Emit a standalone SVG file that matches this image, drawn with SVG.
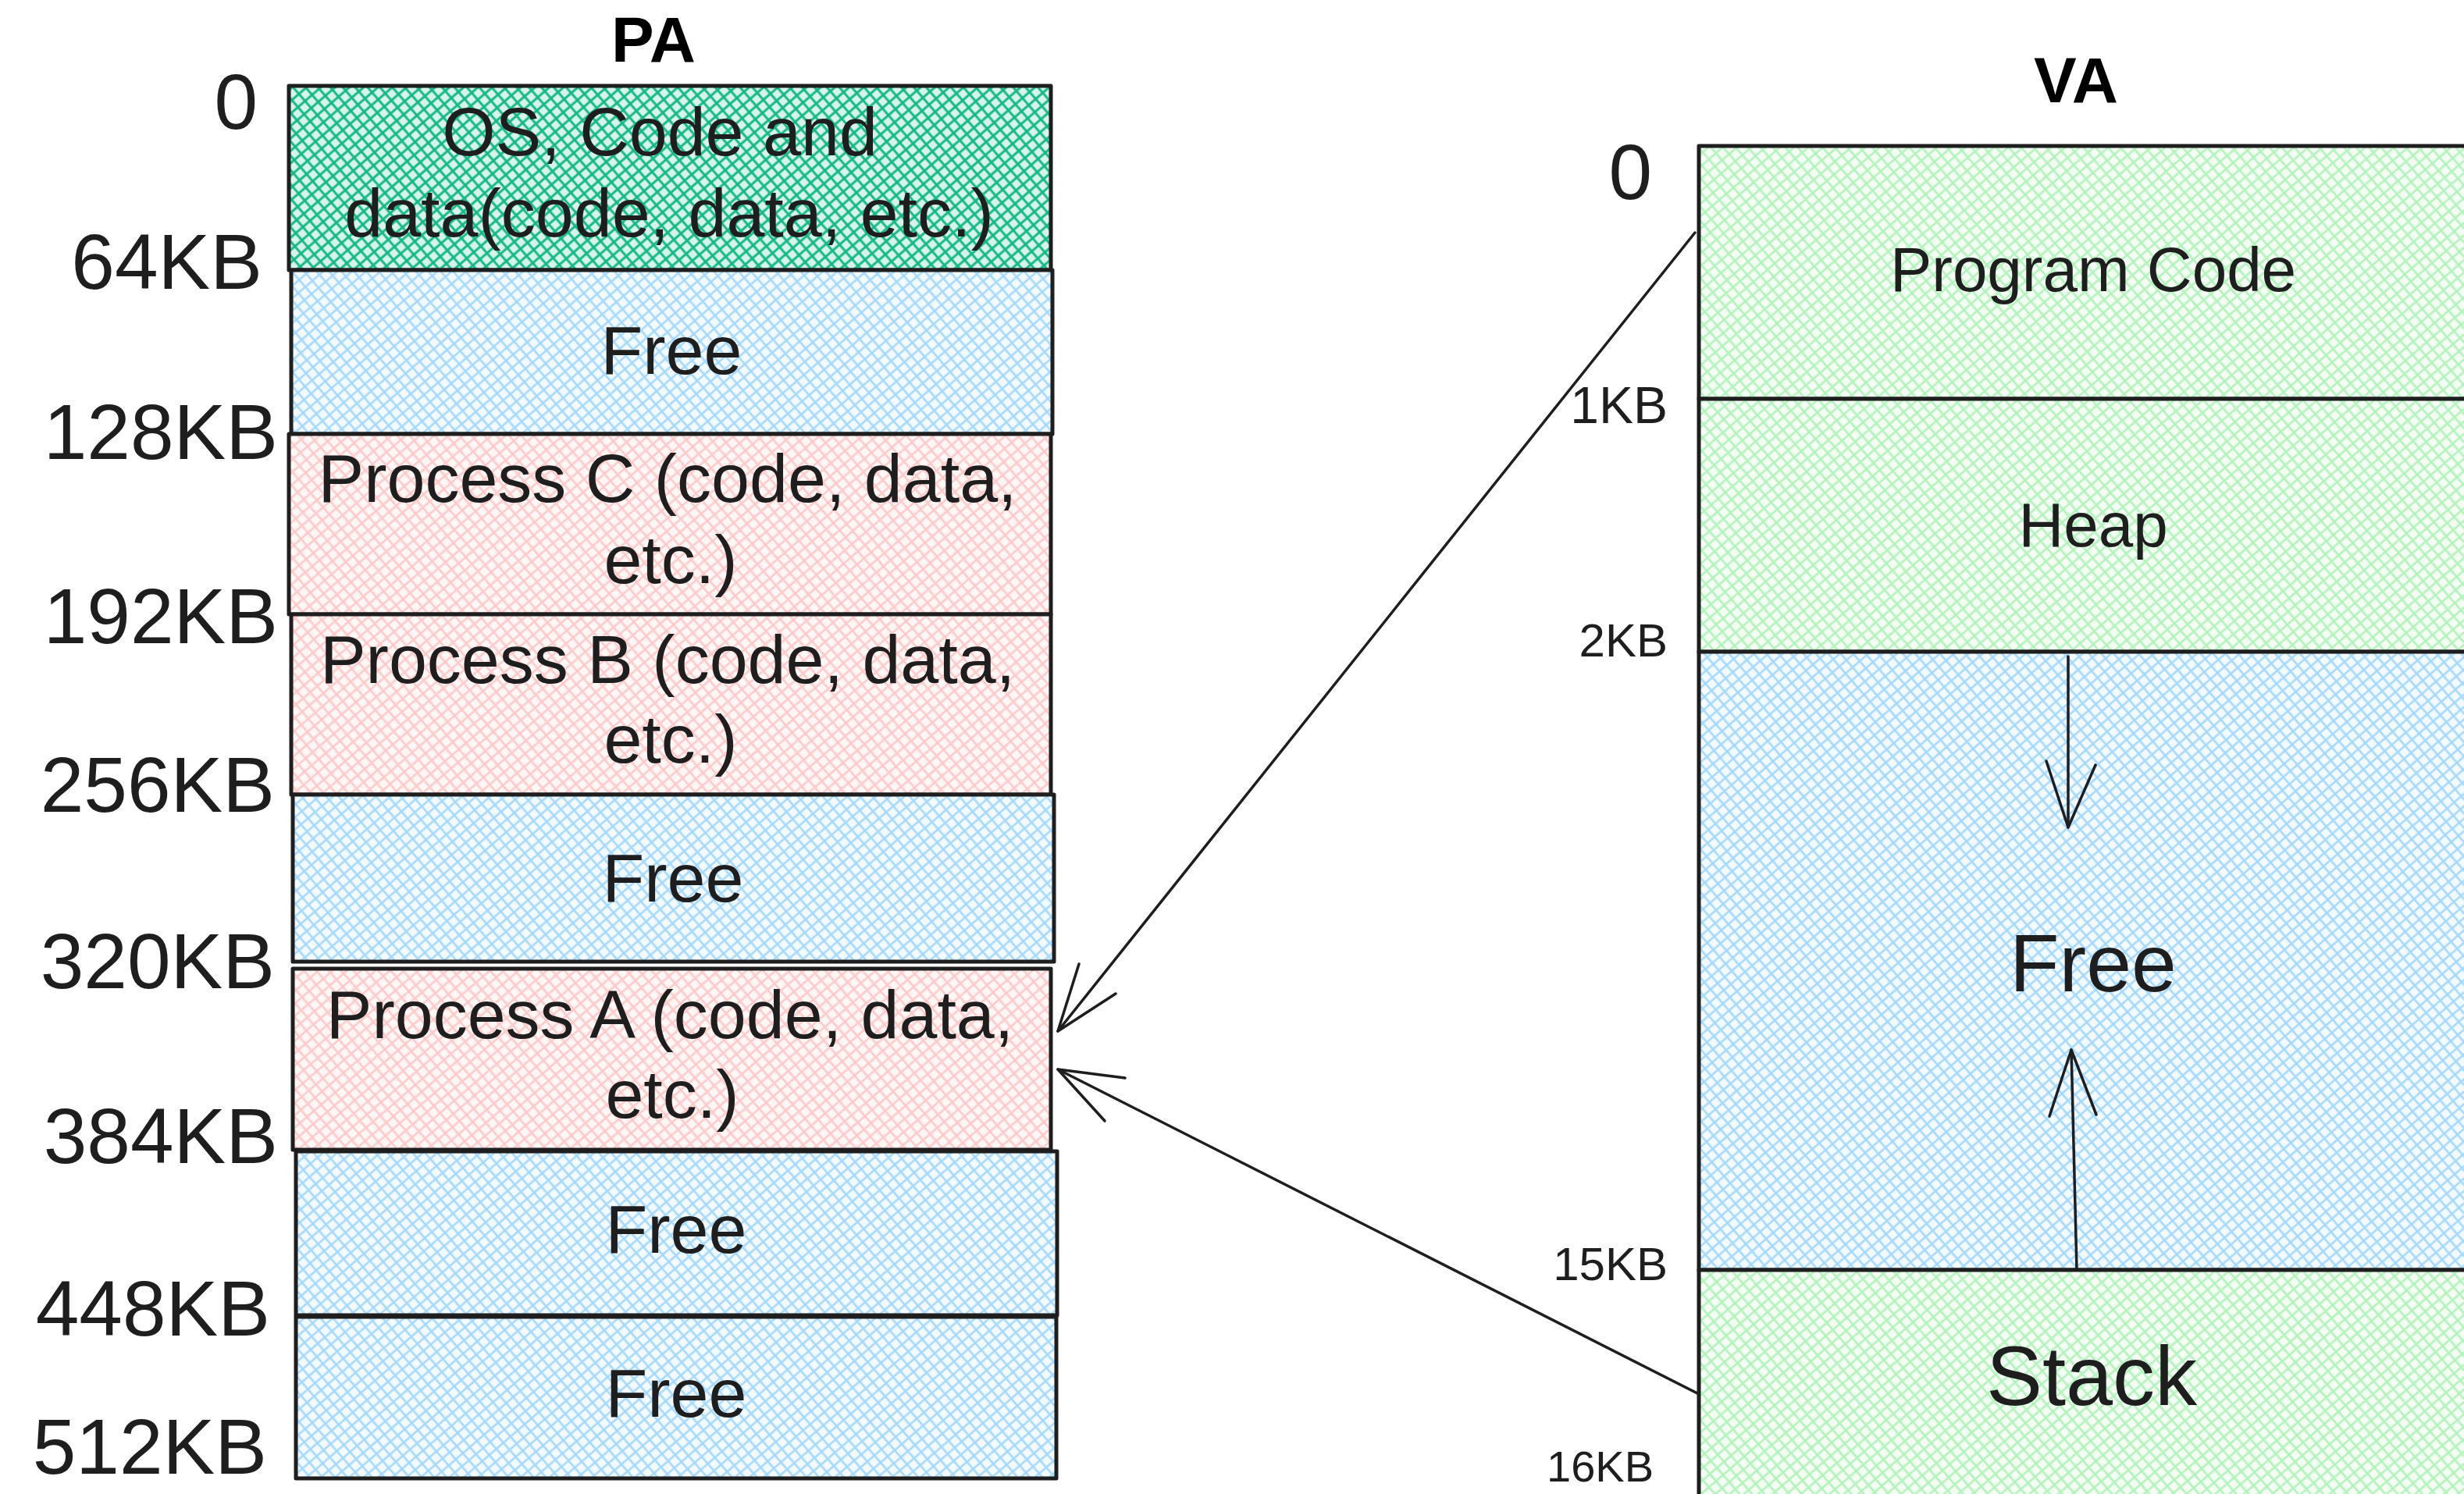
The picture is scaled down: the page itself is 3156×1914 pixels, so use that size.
<svg xmlns="http://www.w3.org/2000/svg" width="3156" height="1914" viewBox="0 0 3156 1914">
<style>
.box{stroke:#1e1e1e;stroke-width:5;stroke-linejoin:round}
.t{font-family:"Liberation Sans",Arial,sans-serif;fill:#1e1e1e}
.bt{font-size:88px;text-anchor:middle}
.lbl{font-size:100px;text-anchor:end}
.vl{text-anchor:end}
.title{font-family:"Liberation Sans",Arial,sans-serif;font-weight:bold;font-size:82px;text-anchor:middle;fill:#000}
.conn{fill:none;stroke:#1e1e1e;stroke-width:3.5;stroke-linecap:round;stroke-linejoin:round}
</style>
<defs>
<pattern id="hTeal" patternUnits="userSpaceOnUse" width="12" height="12" patternTransform="rotate(-41)">
<rect width="12" height="12" fill="#d8f3ea"/>
<path d="M0 6H12M6 0V12" stroke="#12b886" stroke-width="3"/>
</pattern>
<pattern id="hBlue" patternUnits="userSpaceOnUse" width="12" height="12" patternTransform="rotate(-41)">
<rect width="12" height="12" fill="#f2f9ff"/>
<path d="M0 6H12M6 0V12" stroke="#a5d8ff" stroke-width="2.6"/>
</pattern>
<pattern id="hPink" patternUnits="userSpaceOnUse" width="12" height="12" patternTransform="rotate(-41)">
<rect width="12" height="12" fill="#fff6f6"/>
<path d="M0 6H12M6 0V12" stroke="#ffc9c9" stroke-width="2.6"/>
</pattern>
<pattern id="hGreen" patternUnits="userSpaceOnUse" width="12" height="12" patternTransform="rotate(-41)">
<rect width="12" height="12" fill="#f3fdf4"/>
<path d="M0 6H12M6 0V12" stroke="#b2f2bb" stroke-width="2.6"/>
</pattern>
</defs>
<rect width="3156" height="1914" fill="#ffffff"/>

<text class="title" x="837" y="79">PA</text>
<text class="title" x="2659" y="131">VA</text>

<g id="pa-os">
<rect class="box" x="370" y="110" width="976" height="236" fill="url(#hTeal)"/>
<text class="t bt" x="845" y="199">OS, Code and</text>
<text class="t bt" x="857" y="303">data(code, data, etc.)</text>
</g>
<g id="pa-free1">
<rect class="box" x="373" y="346" width="975" height="210" fill="url(#hBlue)"/>
<text class="t bt" x="860" y="479">Free</text>
</g>
<g id="pa-procC">
<rect class="box" x="370" y="556" width="976" height="231" fill="url(#hPink)"/>
<text class="t bt" x="855" y="643">Process C (code, data,</text>
<text class="t bt" x="859" y="747">etc.)</text>
</g>
<g id="pa-procB">
<rect class="box" x="373" y="787" width="973" height="231" fill="url(#hPink)"/>
<text class="t bt" x="855" y="875">Process B (code, data,</text>
<text class="t bt" x="859" y="977">etc.)</text>
</g>
<g id="pa-free2">
<rect class="box" x="375" y="1018" width="975" height="214" fill="url(#hBlue)"/>
<text class="t bt" x="862" y="1155">Free</text>
</g>
<g id="pa-procA">
<rect class="box" x="375" y="1241" width="971" height="232" fill="url(#hPink)"/>
<text class="t bt" x="858" y="1330">Process A (code, data,</text>
<text class="t bt" x="861" y="1432">etc.)</text>
</g>
<g id="pa-free3">
<rect class="box" x="379" y="1475" width="975" height="210" fill="url(#hBlue)"/>
<text class="t bt" x="866" y="1605">Free</text>
</g>
<g id="pa-free4">
<rect class="box" x="379" y="1687" width="974" height="207" fill="url(#hBlue)"/>
<text class="t bt" x="866" y="1815">Free</text>
</g>

<g id="pa-labels">
<text class="t lbl" x="330" y="165">0</text>
<text class="t lbl" x="336" y="370">64KB</text>
<text class="t lbl" x="356" y="588">128KB</text>
<text class="t lbl" x="356" y="824">192KB</text>
<text class="t lbl" x="352" y="1040">256KB</text>
<text class="t lbl" x="352" y="1266">320KB</text>
<text class="t lbl" x="356" y="1490">384KB</text>
<text class="t lbl" x="346" y="1711">448KB</text>
<text class="t lbl" x="342" y="1888">512KB</text>
</g>

<g id="va-code">
<rect class="box" x="2176" y="187" width="1020" height="324" fill="url(#hGreen)"/>
<text class="t" x="2681" y="373" font-size="80" text-anchor="middle">Program Code</text>
</g>
<g id="va-heap">
<rect class="box" x="2176" y="511" width="1020" height="324" fill="url(#hGreen)"/>
<text class="t" x="2681" y="700" font-size="80" text-anchor="middle">Heap</text>
</g>
<g id="va-free">
<rect class="box" x="2176" y="835" width="1020" height="792" fill="url(#hBlue)"/>
<text class="t" x="2681" y="1270" font-size="104" text-anchor="middle">Free</text>
</g>
<g id="va-stack">
<rect class="box" x="2176" y="1627" width="1020" height="290" fill="url(#hGreen)"/>
<text class="t" x="2679" y="1800" font-size="108" text-anchor="middle">Stack</text>
</g>

<g id="va-labels">
<text class="t vl" x="2116" y="255" font-size="100">0</text>
<text class="t vl" x="2136" y="542" font-size="66">1KB</text>
<text class="t vl" x="2136" y="841" font-size="60">2KB</text>
<text class="t vl" x="2136" y="1640" font-size="60">15KB</text>
<text class="t vl" x="2118" y="1898" font-size="56">16KB</text>
</g>

<g id="connectors">
<path class="conn" d="M2171 298 L1355 1321"/>
<path class="conn" d="M1382 1235 L1355 1321 L1429 1273"/>
<path class="conn" d="M2176 1786 L1355 1370"/>
<path class="conn" d="M1441 1381 L1355 1370 L1415 1436"/>
<path class="conn" d="M2649 841 L2649 1060"/>
<path class="conn" d="M2621 975 L2649 1060 L2684 980"/>
<path class="conn" d="M2660 1627 L2653 1345"/>
<path class="conn" d="M2625 1430 L2653 1345 L2685 1428"/>
</g>
</svg>
